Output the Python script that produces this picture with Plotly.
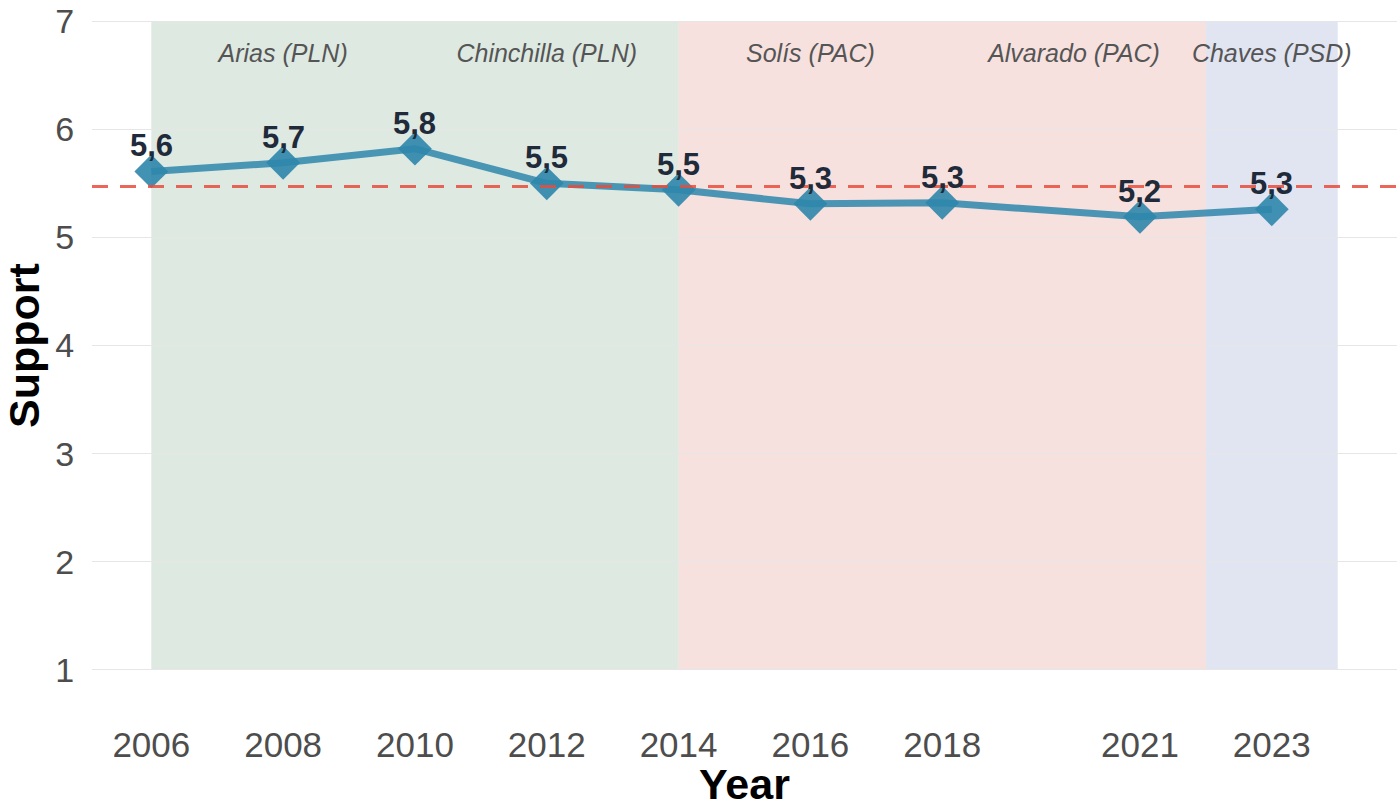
import plotly.graph_objects as go

years = [2006, 2008, 2010, 2012, 2014, 2016, 2018, 2021, 2023]
support = [5.61, 5.69, 5.82, 5.50, 5.44, 5.31, 5.32, 5.19, 5.26]
value_labels = ["5,6", "5,7", "5,8", "5,5", "5,5", "5,3", "5,3", "5,2", "5,3"]
mean_support = 5.47

period_start = [2006, 2014, 2022]
period_end = [2014, 2022, 2024]
period_color = ["rgba(190,212,198,0.5)", "rgba(240,196,192,0.5)", "rgba(196,202,228,0.5)"]

president_names = ["Arias (PLN)", "Chinchilla (PLN)", "Solís (PAC)", "Alvarado (PAC)", "Chaves (PSD)"]
president_x = [2008, 2012, 2016, 2020, 2023]
president_y = 6.68

fig = go.Figure()

for s, e, c in zip(period_start, period_end, period_color):
    fig.add_shape(type="rect", x0=s, x1=e, y0=1, y1=7, xref="x", yref="y",
                  fillcolor=c, line_width=0, layer="below")

fig.add_shape(type="line", x0=0, x1=1, xref="paper", y0=mean_support, y1=mean_support, yref="y",
              line=dict(color="rgba(231,76,60,0.85)", width=3, dash="16px,12px"), layer="above")

fig.add_trace(go.Scatter(
    x=years, y=support, mode="lines+markers",
    line=dict(color="rgba(46,134,171,0.85)", width=7),
    marker=dict(symbol="diamond", size=26, color="rgba(46,134,171,0.9)"),
    cliponaxis=False, showlegend=False,
))

for x, y, t in zip(years, support, value_labels):
    fig.add_annotation(x=x, y=y, text=t, showarrow=False, yanchor="bottom", yshift=6,
                       font=dict(family="Liberation Sans, Arial", size=31, color="#1f2a3a", weight="bold"))

fig.add_trace(go.Scatter(
    x=president_x, y=[president_y] * len(president_x), mode="text",
    text=president_names,
    textfont=dict(family="Liberation Sans, Arial", size=25, color="#555555", style="italic"),
    showlegend=False, hoverinfo="skip",
))

fig.update_layout(
    width=1400, height=808,
    margin=dict(l=92, r=3, t=20, b=137),
    plot_bgcolor="white", paper_bgcolor="white",
    font=dict(family="Liberation Sans, Arial"),
)
fig.update_xaxes(
    range=[2005.1, 2024.9], tickvals=years, ticktext=[str(y) for y in years],
    showgrid=False, zeroline=False, showline=False, automargin=False,
    ticks="outside", ticklen=43, tickcolor="rgba(0,0,0,0)",
    tickfont=dict(size=35, color="#4d4d4d"),
    title=dict(text="Year", font=dict(size=43, color="black", weight="bold"), standoff=2),
)
fig.update_yaxes(
    range=[0.99, 7.01], tickvals=[1, 2, 3, 4, 5, 6, 7],
    showgrid=True, gridcolor="#e6e6e6", gridwidth=1.2, zeroline=False, showline=False,
    automargin=False,
    ticks="outside", ticklen=10, tickcolor="rgba(0,0,0,0)", ticklabeloverflow="allow",
    tickfont=dict(size=34, color="#4d4d4d"),
    title=dict(text="Support", font=dict(size=43, color="black", weight="bold"), standoff=8),
)

fig.write_html("out.html")
